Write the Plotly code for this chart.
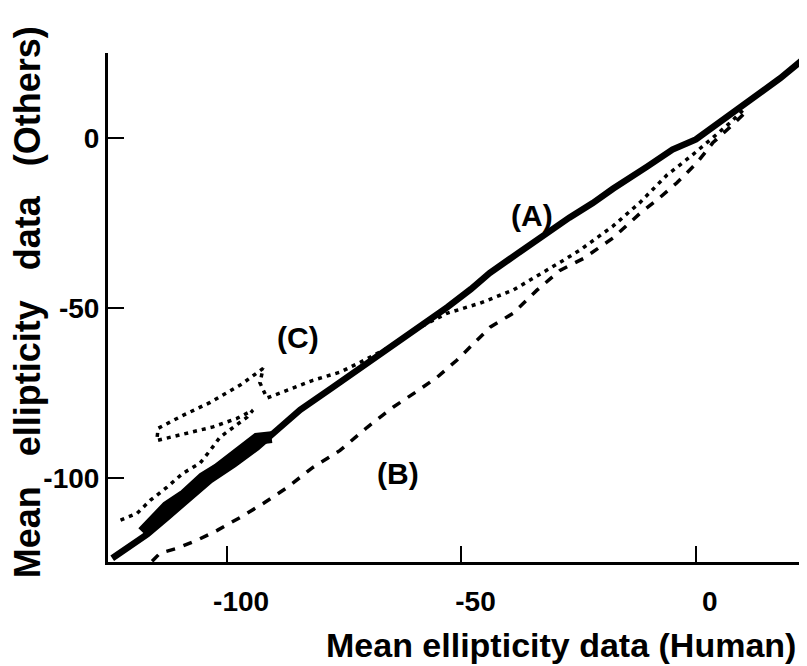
import plotly.graph_objects as go

# Series (A): thick solid trace, plus its doubled stretch at the low end
a_x = [-124.5, -122.8, -117, -112.8, -108, -103.6, -98.5, -93.6, -89, -84.4, -77.4, -70, -63, -58,
       -53, -48, -44, -38, -31.8, -27, -22, -17.7, -10.4, -5, 0, 6.6, 12, 18, 23.7]
a_y = [-123.6, -122, -116.5, -111.6, -106, -100.7, -96, -91, -85.5, -80, -73.3, -66.3, -59.5, -54.5,
       -49.8, -44.5, -39.8, -34, -28, -23.5, -19.2, -15, -8.5, -3.5, -0.5, 6.1, 11.5, 17.5, 24]
a2_x = [-118, -115, -112.8, -109, -105.1, -102.1, -99, -96.6, -93.6, -90.5]
a2_y = [-116, -112, -108.5, -105, -100, -97.5, -94.5, -91.5, -88.5, -88]

# Series (B): dashed trace, lowest one
b_x = [-116, -114.3, -110.7, -106.4, -102.1, -97.2, -92.3, -87.2, -81.7, -75.9, -70.1, -64.6, -60,
       -55.2, -51, -43.9, -39, -33.9, -29, -24, -17.7, -11.9, -8.3, -4.1, 0.2, 3.6, 8, 11]
b_y = [-124.5, -122.1, -120.7, -118.3, -115.4, -111.6, -107.5, -102.8, -96.9, -91.9, -85.1, -79.2, -75,
       -70.4, -65.4, -55.7, -51.6, -44.8, -39, -35.5, -29.5, -22.2, -18.3, -13.3, -7.4, -1.5, 4, 8]

# Series (C): dotted trace with the loop at the low end
c_x = [10, 7.2, 3, -1.3, -6.2, -11.9, -17.7, -24.7, -27.5, -31.8, -39, -46, -53.1, -60, -66, -71.6,
       -75.9, -81.7, -87.2, -91.5, -93, -92.3, -97.2, -103.6, -109.4, -114.7, -115, -108.5, -103,
       -97.9, -94.5, -95.7, -98.7, -101.5, -103.6, -105.8, -109.4, -112.8, -116.4, -119.2, -122.8]
c_y = [8, 4.3, -0.7, -5.7, -11, -19, -26, -33, -35.4, -38.9, -44.8, -48.6, -51.6, -56.5, -62, -66,
       -68.9, -71.3, -74.2, -76.5, -72, -67.8, -72.7, -77.8, -81.6, -85.4, -89, -86.9, -85,
       -82.5, -80.1, -82.1, -85, -88, -91.9, -95.7, -98.6, -102.7, -106.6, -110.4, -112.4]

labels = ["(A)", "(B)", "(C)"]
label_x = [-35, -63.5, -84.9]
label_y = [-23, -98.7, -58.6]

tick_vals = [-100, -50, 0]
tick_text = ["-100", "-50", "0"]

FONT = "Liberation Sans, Arial, sans-serif"

fig = go.Figure()
fig.add_trace(go.Scatter(x=a_x, y=a_y, mode="lines", line=dict(color="black", width=6.5)))
fig.add_trace(go.Scatter(x=a2_x, y=a2_y, mode="lines", line=dict(color="black", width=12)))
fig.add_trace(go.Scatter(x=b_x, y=b_y, mode="lines",
                         line=dict(color="black", width=3.5, dash="9px,9px")))
fig.add_trace(go.Scatter(x=c_x, y=c_y, mode="lines",
                         line=dict(color="black", width=3.5, dash="4px,5px")))

for t, x, y in zip(labels, label_x, label_y):
    fig.add_annotation(x=x, y=y, text="<b>" + t + "</b>", showarrow=False,
                       font=dict(family=FONT, size=30, color="black"))

# axis titles
fig.add_annotation(xref="paper", yref="paper", x=0.987, y=-0.163, xanchor="right", yanchor="middle",
                   text="<b>Mean ellipticity data (Human)</b>", showarrow=False,
                   font=dict(family=FONT, size=34, color="black"))
fig.add_annotation(xref="paper", yref="paper", x=-0.116, y=0.51, xanchor="center", yanchor="middle",
                   text="<b>Mean\u00a0\u00a0\u00a0ellipticity\u00a0\u00a0\u00a0data\u00a0\u00a0\u00a0(Others)</b>",
                   textangle=-90, showarrow=False,
                   font=dict(family=FONT, size=36, color="black"))

axis_common = dict(showgrid=False, zeroline=False, showline=True, linecolor="black",
                   ticks="inside", ticklen=16, tickwidth=2, tickcolor="black",
                   tickvals=tick_vals, ticktext=["<b>" + t + "</b>" for t in tick_text],
                   tickfont=dict(family=FONT, size=28, color="black"))

fig.update_xaxes(range=[-125.4, 23.7], linewidth=3, ticklabelshift=14, ticklabelstandoff=12,
                 **axis_common)
fig.update_yaxes(range=[-124.7, 24.9], linewidth=3, **axis_common)

# the page body adds an 8px offset, so margins are set 8px smaller on the top/left
fig.update_layout(
    width=807, height=666,
    margin=dict(l=100, r=8, t=45, b=112),
    plot_bgcolor="white", paper_bgcolor="white",
    showlegend=False,
)

fig.write_html("out.html")
